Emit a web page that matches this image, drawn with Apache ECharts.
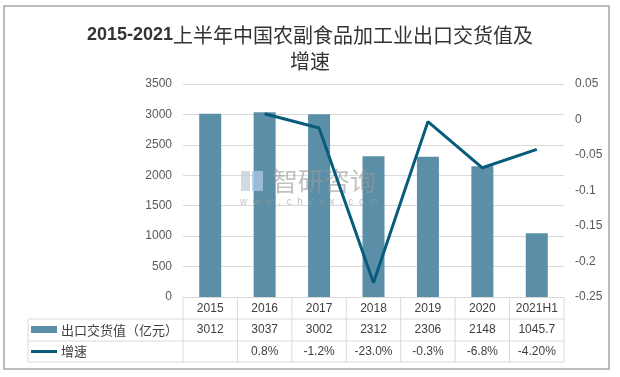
<!DOCTYPE html>
<html>
<head>
<meta charset="utf-8">
<script src="https://cdn.jsdelivr.net/npm/echarts@6/dist/echarts.min.js"></script>
<style>
  html, body { margin: 0; padding: 0; background: #fff; }
  #chart { width: 620px; height: 377px; }
</style>
</head>
<body>
<div id="chart"></div>
<script>
  var years = ["2015", "2016", "2017", "2018", "2019", "2020", "2021H1"];
  var exportValue = [3012, 3037, 3002, 2312, 2306, 2148, 1045.7];
  var growth = [null, 0.008, -0.012, -0.23, -0.003, -0.068, -0.042];
  var growthText = ["", "0.8%", "-1.2%", "-23.0%", "-0.3%", "-6.8%", "-4.20%"];
  var valueText = ["3012", "3037", "3002", "2312", "2306", "2148", "1045.7"];

  var BAR = "#5b8fa8", LINE = "#075c7c", GRID = "#d9d9d9", TXT = "#404040";
  var FONT = "'Liberation Sans', 'Noto Sans CJK SC', sans-serif";

  var chart = echarts.init(document.getElementById("chart"));

  chart.setOption({
    animation: false,
    textStyle: { fontFamily: FONT },
    title: {
      left: "center",
      top: 17,
      text: "{b|2015-2021}{n|上半年中国农副食品加工业出口交货值及}\n{n|增速}",
      textStyle: {
        rich: {
          b: { fontSize: 18, fontWeight: "bold", color: "#333", fontFamily: FONT, lineHeight: 26 },
          n: { fontSize: 20, fontWeight: "normal", color: "#333", fontFamily: "'Noto Sans CJK SC', sans-serif", lineHeight: 26 }
        }
      }
    },
    grid: { left: 183, right: 56, top: 84, height: 213 },
    xAxis: {
      type: "category",
      data: years,
      axisLine: { lineStyle: { color: GRID } },
      axisTick: { show: false },
      axisLabel: { show: false }
    },
    yAxis: [{
      type: "value",
      min: 0,
      max: 3500,
      interval: 500,
      axisLine: { show: false },
      axisTick: { show: false },
      axisLabel: { color: "#595959", fontSize: 12, margin: 11, formatter: function (v) { return String(v); } },
      splitLine: { lineStyle: { color: GRID } }
    }, {
      type: "value",
      min: -0.25,
      max: 0.05,
      interval: 0.05,
      axisLine: { show: false },
      axisTick: { show: false },
      splitLine: { show: false },
      axisLabel: {
        color: "#595959", fontSize: 12, margin: 11,
        formatter: function (v) { return String(parseFloat(v.toFixed(2))); }
      }
    }],
    series: [{
      name: "出口交货值（亿元）",
      type: "bar",
      data: exportValue,
      barWidth: 22,
      itemStyle: { color: BAR }
    }, {
      name: "增速",
      type: "line",
      yAxisIndex: 1,
      data: growth,
      symbol: "none",
      z: 5,
      lineStyle: { color: LINE, width: 3 }
    }]
  });

  // data table under the plot, placed from the category axis
  var x0 = chart.convertToPixel({ xAxisIndex: 0 }, years[0]);
  var x1 = chart.convertToPixel({ xAxisIndex: 0 }, years[1]);
  var step = x1 - x0;
  var tLeft = x0 - step / 2;
  var tRight = tLeft + step * years.length;
  var yTop = chart.convertToPixel({ yAxisIndex: 0 }, 0);
  var rows = [yTop, 319, 341, 362];
  var legLeft = 28;
  var g = [];
  var ls = { stroke: GRID, lineWidth: 1 };

  function line(xa, ya, xb, yb) {
    g.push({ type: "line", shape: { x1: xa, y1: ya, x2: xb, y2: yb }, style: ls, silent: true });
  }
  function cell(txt, cx, cy, align) {
    g.push({
      type: "text", x: cx, y: cy,
      style: { text: txt, fill: TXT, font: "12px " + FONT, align: align || "center", verticalAlign: "middle" }
    });
  }

  line(legLeft, rows[1], tRight, rows[1]);
  line(legLeft, rows[2], tRight, rows[2]);
  line(legLeft, rows[3], tRight, rows[3]);
  line(legLeft, rows[1], legLeft, rows[3]);
  for (var i = 0; i <= years.length; i++) {
    line(tLeft + step * i, rows[0], tLeft + step * i, rows[3]);
  }
  years.forEach(function (y, i) {
    var cx = chart.convertToPixel({ xAxisIndex: 0 }, y);
    cell(y, cx, (rows[0] + rows[1]) / 2 + 1);
    cell(valueText[i], cx, (rows[1] + rows[2]) / 2);
    cell(growthText[i], cx, (rows[2] + rows[3]) / 2);
  });

  // legend keys in the first column
  var r2 = (rows[1] + rows[2]) / 2, r3 = (rows[2] + rows[3]) / 2;
  g.push({ type: "rect", shape: { x: 31, y: r2 - 4, width: 26, height: 7 }, style: { fill: BAR } });
  g.push({ type: "line", shape: { x1: 31, y1: r3, x2: 57, y2: r3 }, style: { stroke: LINE, lineWidth: 3 } });
  g.push({ type: "text", x: 61, y: r2, style: { text: "出口交货值（亿元）", fill: TXT, font: "13px 'Noto Sans CJK SC'", verticalAlign: "middle" } });
  g.push({ type: "text", x: 61, y: r3, style: { text: "增速", fill: TXT, font: "13px 'Noto Sans CJK SC'", verticalAlign: "middle" } });

  // watermark, on top of the bars
  g.push({ type: "rect", z: 3, shape: { x: 241, y: 171, width: 9, height: 20 }, style: { fill: "#c5cfdc", opacity: 0.8 } });
  g.push({ type: "rect", z: 3, shape: { x: 252, y: 171, width: 11, height: 20 }, style: { fill: "#a9c6e0", opacity: 0.8 } });
  g.push({ type: "text", z: 3, x: 272, y: 181, style: { text: "智研咨询", fill: "#9a9a9a", opacity: 0.6, font: "26px 'Noto Sans CJK SC'", verticalAlign: "middle" } });
  g.push({ type: "text", z: 3, x: 240, y: 202, style: { text: "w  w  w  .  c  h  y  x  x  .  c  o  m", fill: "#9a9a9a", opacity: 0.6, font: "10px " + FONT, verticalAlign: "middle" } });

  // outer border
  g.push({ type: "rect", shape: { x: 4, y: 6, width: 605, height: 363 }, style: { fill: null, stroke: "#a6a6a6", lineWidth: 1.5 }, silent: true });

  chart.setOption({ graphic: g });
</script>
</body>
</html>
